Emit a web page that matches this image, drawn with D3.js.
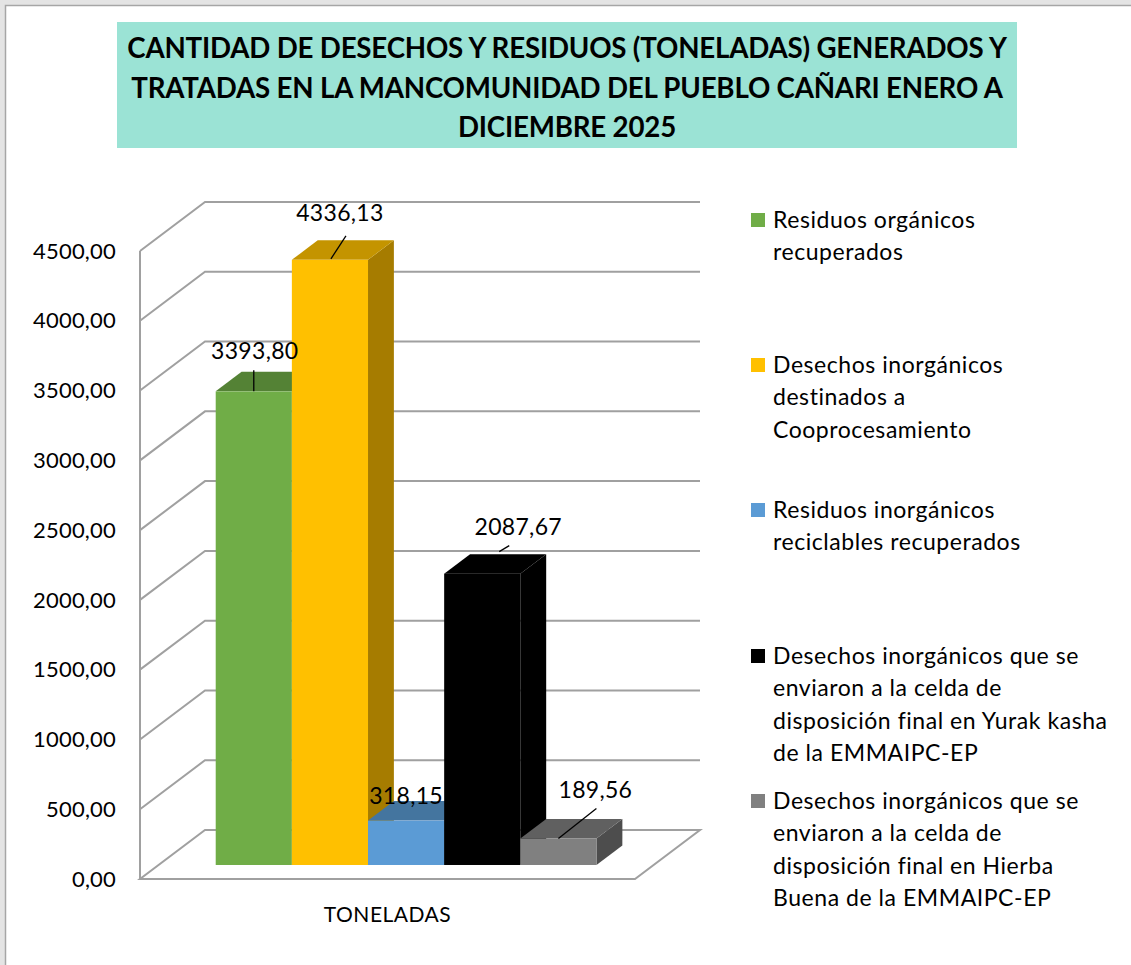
<!DOCTYPE html>
<html>
<head>
<meta charset="utf-8">
<script src="https://cdn.jsdelivr.net/npm/d3@7"></script>
<style>
    html, body { margin: 0; padding: 0; background: #e4e4e4; }
    #chart { position: absolute; left: 0; top: 0; }
    text { font-family: Lato, "Noto Sans", sans-serif; fill: #000; }
</style>
</head>
<body>
<div id="chart"></div>
<script>
// chart data
var categories = ["TONELADAS"];
var seriesNames = [
    "Residuos orgánicos|recuperados",
    "Desechos inorgánicos|destinados a|Cooprocesamiento",
    "Residuos inorgánicos|reciclables recuperados",
    "Desechos inorgánicos que se|enviaron a la celda de|disposición final en Yurak kasha|de la EMMAIPC-EP",
    "Desechos inorgánicos que se|enviaron a la celda de|disposición final en Hierba|Buena de la EMMAIPC-EP"
];
var seriesValues = [3393.80, 4336.13, 318.15, 2087.67, 189.56];
var yTicks = [0, 500, 1000, 1500, 2000, 2500, 3000, 3500, 4000, 4500];
var titleLines = [
    "CANTIDAD DE DESECHOS Y RESIDUOS (TONELADAS) GENERADOS Y",
    "TRATADAS EN LA MANCOMUNIDAD DEL PUEBLO CAÑARI ENERO A",
    "DICIEMBRE 2025"
];

// colours: front, top, side
var colors = [
    ["#70ad47", "#548235", "#4e7a31"],
    ["#ffc000", "#c49400", "#a67c00"],
    ["#5b9bd5", "#44759f", "#3c6a92"],
    ["#000000", "#000000", "#000000"],
    ["#808080", "#606060", "#4d4d4d"]
];

// label placement relative to the bar's front-top centre
var labelLayout = [
    {dx: 1, dy: -40, leader: [[0, 0], [0, -21]]},
    {dx: 10, dy: -47, leader: [[1, -1], [16, -24]]},
    {dx: 0, dy: -25, leader: null},
    {dx: 36, dy: -47, leader: [[17, -22], [27, -28]]},
    {dx: 37, dy: -49, leader: [[0, 0], [38, -30]]}
];

var width = 1131, height = 965;
var x0 = 140, plotW = 495;
var depthX = 65, depthY = -49;
var barF0 = 0.286, barF1 = 0.684;

var locale = d3.formatLocale({decimal: ",", thousands: "", grouping: [3]});
var fmt = locale.format(".2f");

var svg = d3.select("#chart").append("svg")
    .attr("width", width)
    .attr("height", height);

// page frame
svg.append("rect")
    .attr("x", 5.5).attr("y", 5.5)
    .attr("width", width + 10).attr("height", height + 10)
    .attr("fill", "#fff")
    .attr("stroke", "#a6a6a6")
    .attr("stroke-width", 1.5);

// title
svg.append("rect")
    .attr("x", 117).attr("y", 22)
    .attr("width", 900).attr("height", 126)
    .attr("fill", "#9be3d5");

svg.append("g").selectAll("text")
    .data(titleLines)
    .enter()
    .append("text")
    .attr("x", 567)
    .attr("y", function (d, i) { return 58 + i * 39.5; })
    .attr("text-anchor", "middle")
    .style("font-weight", "bold")
    .style("font-size", "27.7px")
    .style("letter-spacing", "-0.2px")
    .text(function (d) { return d; });

var y = d3.scaleLinear()
    .domain([0, 4500])
    .range([879, 251]);

var x = d3.scaleBand()
    .domain(d3.range(seriesValues.length))
    .range([x0, x0 + plotW])
    .paddingInner(0)
    .paddingOuter(0.75);

var catX = d3.scaleBand()
    .domain(categories)
    .range([x0, x0 + plotW]);

var grid = svg.append("g")
    .attr("fill", "none")
    .attr("stroke", "#a0a0a0")
    .attr("stroke-width", 2);

// floor
grid.append("path")
    .attr("d", "M" + x0 + "," + y(0) +
        "L" + (x0 + plotW) + "," + y(0) +
        "L" + (x0 + plotW + depthX) + "," + (y(0) + depthY) +
        "L" + (x0 + depthX) + "," + (y(0) + depthY) + "Z");

// wall gridlines
grid.selectAll(".gl")
    .data(yTicks.filter(function (t) { return t > 0; }))
    .enter()
    .append("path")
    .attr("class", "gl")
    .attr("d", function (t) {
        return "M" + x0 + "," + y(t) +
            "L" + (x0 + depthX) + "," + (y(t) + depthY) +
            "L" + (x0 + depthX + plotW) + "," + (y(t) + depthY);
    });

grid.append("line")
    .attr("x1", x0).attr("x2", x0)
    .attr("y1", y(0)).attr("y2", y(4500));

// y tick labels
svg.append("g").selectAll("text")
    .data(yTicks)
    .enter()
    .append("text")
    .attr("x", 116)
    .attr("y", function (t) { return y(t); })
    .attr("dy", "0.35em")
    .attr("text-anchor", "end")
    .style("font-size", "22px")
    .style("letter-spacing", "0.2px")
    .text(function (t) { return fmt(t); });

// bars
function pt(px, py) { return px + "," + py; }

var bars = svg.append("g").selectAll("g")
    .data(seriesValues)
    .enter()
    .append("g");

bars.each(function (v, i) {
    var g = d3.select(this);
    var fx = x(i) + barF0 * depthX, bx = x(i) + barF1 * depthX;
    var fyB = y(0) + barF0 * depthY, byB = y(0) + barF1 * depthY;
    var fyT = y(v) + barF0 * depthY, byT = y(v) + barF1 * depthY;
    var w = x.bandwidth();
    // side
    g.append("polygon")
        .attr("points", [pt(fx + w, fyT), pt(bx + w, byT), pt(bx + w, byB), pt(fx + w, fyB)].join(" "))
        .attr("fill", colors[i][2]);
    // top
    g.append("polygon")
        .attr("points", [pt(fx, fyT), pt(bx, byT), pt(bx + w, byT), pt(fx + w, fyT)].join(" "))
        .attr("fill", colors[i][1]);
    // front
    g.append("rect")
        .attr("x", fx).attr("y", fyT)
        .attr("width", w).attr("height", fyB - fyT)
        .attr("fill", colors[i][0]);
});

// data labels, drawn over all bars
var labels = svg.append("g").selectAll("g")
    .data(seriesValues)
    .enter()
    .append("g");

labels.each(function (v, i) {
    var g = d3.select(this);
    var cx = x(i) + barF0 * depthX + x.bandwidth() / 2;
    var cy = y(v) + barF0 * depthY;
    var L = labelLayout[i];
    if (L.leader) {
        g.append("line")
            .attr("x1", cx + L.leader[0][0]).attr("y1", cy + L.leader[0][1])
            .attr("x2", cx + L.leader[1][0]).attr("y2", cy + L.leader[1][1])
            .attr("stroke", "#000")
            .attr("stroke-width", 1.3);
    }
    g.append("text")
        .attr("x", cx + L.dx)
        .attr("y", cy + L.dy)
        .attr("dy", "0.35em")
        .attr("text-anchor", "middle")
        .style("font-size", "23px")
        .style("letter-spacing", "0.3px")
        .text(fmt(v));
});

// category axis label
svg.append("g").selectAll("text")
    .data(categories)
    .enter()
    .append("text")
    .attr("x", function (d) { return catX(d) + catX.bandwidth() / 2; })
    .attr("y", 915)
    .attr("dy", "0.35em")
    .attr("text-anchor", "middle")
    .style("font-size", "21px")
    .style("letter-spacing", "0.5px")
    .text(function (d) { return d; });

// legend
var legendTop = [220, 365, 510, 656, 801];
var legend = svg.append("g").selectAll("g")
    .data(seriesNames)
    .enter()
    .append("g")
    .attr("transform", function (d, i) { return "translate(751," + legendTop[i] + ")"; });

legend.append("rect")
    .attr("x", 0).attr("y", -7)
    .attr("width", 14).attr("height", 14)
    .attr("fill", function (d, i) { return colors[i][0]; });

legend.append("text")
    .attr("x", 22)
    .style("font-size", "23px")
    .style("letter-spacing", "0.55px")
    .selectAll("tspan")
    .data(function (d) { return d.split("|"); })
    .enter()
    .append("tspan")
    .attr("x", 22)
    .attr("y", function (d, j) { return j * 32.3; })
    .attr("dy", "0.35em")
    .text(function (d) { return d; });
</script>
</body>
</html>
